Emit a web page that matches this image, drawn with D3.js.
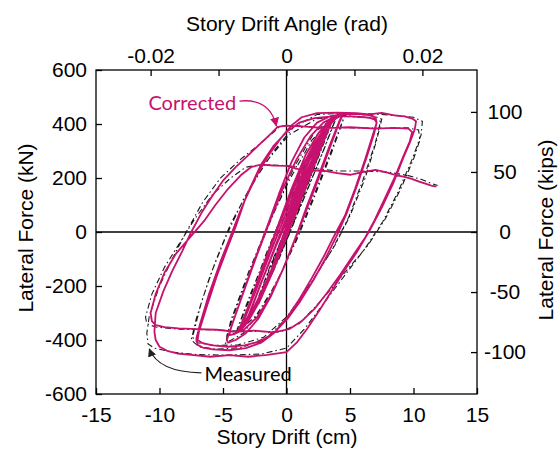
<!DOCTYPE html>
<html>
<head>
<meta charset="utf-8">
<script src="https://cdn.jsdelivr.net/npm/d3@7"></script>
<style>
  body { margin: 0; background: #fff; }
  svg text { font-family: "Liberation Sans", Arial, sans-serif; }
</style>
</head>
<body>
<svg id="chart" width="560" height="454"></svg>
<script>
// axis values
const driftTicks = [-15, -10, -5, 0, 5, 10, 15];
const forceTicks = [-600, -400, -200, 0, 200, 400, 600];
const angleTicks = [-0.02, -0.01, 0, 0.01, 0.02];
const angleLabels = [-0.02, 0, 0.02];
const kipTicks = [-100, -50, 0, 50, 100];
const kNPerKip = 4.448;
const storyHeight = 535; // cm, from top axis

// Corrected curve [drift cm, force kN]
const corrSmall = [
  [0,0],[0.4,55],[0.8,105],[1.0,125],[0.8,100],[0.3,35],[-0.2,-25],[-0.6,-80],[-0.9,-115],[-1.0,-125],[-0.8,-100],[-0.3,-30],
  [0.2,35],[0.6,85],[1.0,130],[0.8,105],[0.2,25],[-0.4,-50],[-1.0,-130],[-0.7,-95],[-0.1,-10],
  [0.5,70],[1.2,160],[1.8,230],[2.1,265],[1.8,235],[1.0,130],[0.2,25],[-0.6,-80],[-1.4,-180],[-2.0,-245],[-2.2,-260],
  [-1.9,-230],[-1.0,-115],[-0.2,-5],[0.6,100],[1.4,195],[2.0,260],[2.2,275],[1.9,240],[1.0,120],[0.1,10],[-0.8,-100],
  [-1.6,-195],[-2.2,-265],[-1.9,-235],[-0.9,-110],[0,15],
  [0.8,120],[1.6,215],[2.4,300],[2.9,350],[3.1,370],[2.8,345],[2.0,245],[1.0,115],[0.2,10],[-0.8,-110],[-1.8,-215],
  [-2.6,-290],[-3.1,-330],[-3.3,-340],[-3.0,-310],[-2.1,-200],[-1.1,-80],[-0.2,30],[0.8,150],[1.8,265],[2.6,340],
  [3.1,380],[2.8,350],[1.8,225],[0.8,100],[-0.2,-20],[-1.2,-140],[-2.2,-245],[-3.0,-320],[-3.3,-345],[-3.0,-315],
  [-2.0,-190],[-0.9,-60],[0.2,60],
  [1.2,180],[2.2,290],[3.0,365],[3.5,400],[3.7,415],[3.4,395],[2.6,305],[1.6,180],[0.6,60],[-0.5,-70],[-1.6,-190],
  [-2.6,-290],[-3.4,-345],[-3.7,-360],[-3.4,-335],[-2.4,-215],[-1.3,-80],[-0.2,50],[1.0,190],[2.0,295],[2.9,370],
  [3.5,410],[3.7,420],[3.3,390],[2.4,285],[1.4,160],[0.4,40],[-0.7,-95],[-1.8,-215],[-2.8,-305],[-3.5,-350],[-3.7,-362],
  [-3.3,-320],[-2.2,-170],[-1.1,-30],[0,100],[1.1,230],[2.1,320],[2.9,380],[3.5,412],[3.8,425],[3.5,400],[2.7,310],
  [1.8,200],[0.9,90],[-0.1,-30],[-1.1,-150],[-2.1,-255],[-3.0,-330],[-3.6,-365],[-3.9,-372],[-3.6,-345],[-2.7,-240],
  [-1.7,-110],[-0.7,20],[0.4,160],[1.5,285],[2.5,365],[3.3,410],[3.8,428],[3.5,405],[2.6,300],[1.5,165],[0.5,45],
  [-0.6,-90],[-1.7,-210],[-2.7,-300],[-3.4,-345],[-3.8,-365]
];
const corrMid = [
  [-3.4,-330],[-2.4,-200],[-1.3,-60],[-0.2,70],[1.0,210],[2.0,310],[2.9,375],[3.6,410],[4.1,428],[4.4,432],[4.2,415],
  [3.4,320],[2.5,205],[1.6,95],[0.8,-10],[-0.2,-130],[-1.2,-235],[-2.2,-320],[-3.2,-375],[-4.0,-400],[-4.6,-410],
  [-4.7,-400],[-4.3,-345],[-3.4,-225],[-2.4,-95],[-1.4,30],[-0.3,160],[0.8,270],[1.9,355],[2.9,405],[3.7,425],[4.4,430],
  [4.2,410],[3.4,310],[2.5,195],[1.6,85],[0.7,-25],[-0.3,-140],[-1.3,-240],[-2.3,-315],[-3.3,-360],[-4.1,-378],
  [-4.5,-382],[-4.4,-360]
];
const corrSeven = [
  [-3.6,-250],[-2.6,-115],[-1.6,10],[-0.6,140],[0.4,260],[1.4,350],[2.4,405],[3.4,428],[4.6,438],[5.8,437],[6.6,432],
  [7.0,425],[7.1,405],[6.8,360],[6.2,270],[5.4,160],[4.6,60],[3.8,-10],[3.0,-85],[2.0,-170],[1.0,-250],[0,-320],
  [-1.0,-375],[-2.0,-410],[-3.2,-430],[-4.5,-438],[-5.8,-435],[-6.6,-428],[-7.0,-418],[-7.1,-395],[-6.8,-340],
  [-6.1,-230],[-5.2,-110],[-4.4,-15],[-3.7,70],[-2.9,160],[-2.0,250],[-1.0,320],[0,370],[1.0,405],[2.2,422],[3.6,428],
  [5.0,428],[6.2,425],[6.9,420],[7.1,405],[6.9,365],[6.3,275],[5.5,165],[4.7,65],[4.0,-10],[3.1,-95],[2.1,-180],
  [1.1,-255],[0.1,-320],[-1.0,-375],[-2.1,-405],[-3.3,-420],[-4.6,-425],[-5.8,-420],[-6.6,-412],[-7.0,-400],
  [-6.9,-370],[-6.3,-280],[-5.5,-165],[-4.7,-65],[-4.0,20],[-3.3,115],[-2.4,205],[-1.4,285],[-0.4,350],[0.4,395],
  [1.2,425],[2.4,440],[4.0,442]
];
const corrTen = [
  [5.5,440],[6.5,436],[7.5,441],[8.5,432],[9.3,428],[9.9,420],[10.2,410],[10.1,380],[9.7,330],[9.2,275],[8.4,180],
  [7.5,90],[6.6,10],[5.6,-70],[4.6,-140],[3.6,-215],[2.6,-290],[1.6,-360],[0.8,-410],[0,-445],[-1.5,-455],[-3,-462],
  [-4.5,-456],[-6,-462],[-7.5,-455],[-8.6,-450],[-9.4,-440],[-10.0,-425],[-10.3,-400],[-10.4,-370],[-10.3,-300],
  [-9.7,-220],[-9.0,-145],[-8.2,-70],[-7.5,0],[-6.7,70],[-5.9,130],[-5.0,190],[-4.0,240],[-3.0,285],[-2.0,330],
  [-1.2,365],[-0.7,389],[0,394],[1.5,390],[3,385],[5,388],[7,383],[8.5,386],[9.6,383],[9.9,370],[9.7,335],[9.2,280],
  [8.5,200],[7.7,120],[6.9,40],[6.2,-20],[5.2,-90],[4.2,-160],[3.2,-225],[2.2,-285],[1.2,-330],[0.2,-360],[-1,-372],
  [-2.5,-365],[-4,-370],[-5.5,-362],[-7,-360],[-8.5,-357],[-9.6,-352],[-10.3,-345],[-10.6,-330]
];
const corrFinal = [
  [-10.7,-300],[-10.3,-230],[-9.6,-150],[-8.7,-80],[-7.6,-20],[-6.5,40],[-5.6,100],[-4.6,160],[-3.6,210],[-2.8,240],
  [-2.0,250],[-1.0,246],[0,245],[1,232],[2,228],[3,226],[4,218],[5,212],[6,222],[7,230],[7.8,222],[8.5,212],[9.2,205],
  [9.8,198],[10.5,186],[11,178],[11.4,172],[11.8,168]
];

// Measured curve [drift cm, force kN]
const measSmall = [
  [0,0],[0.6,80],[1.1,125],[0.4,40],[-0.5,-60],[-1.1,-125],[-0.4,-35],[0.6,85],[1.3,140],[0.5,45],[-0.6,-70],[-1.2,-130],
  [-0.4,-30],[0.9,130],[1.8,230],[2.3,270],[1.2,130],[0,-10],[-1.2,-150],[-2.3,-260],[-1.2,-120],[0.2,40],[1.4,195],
  [2.4,280],[1.3,140],[0,-5],[-1.3,-160],[-2.4,-265],[-1.2,-115],[0.4,60],[1.6,220],[2.6,320],[3.3,372],[2.2,240],
  [1.0,90],[-0.4,-80],[-1.8,-220],[-2.9,-315],[-3.5,-342],[-2.3,-200],[-0.9,-30],[0.6,140],[2.0,290],[3.3,382],
  [2.3,255],[1.0,100],[-0.5,-75],[-2.0,-235],[-3.5,-348],[-2.4,-210],[-1.0,-40],[0.6,150],[2.2,320],[3.4,405],
  [3.9,420],[2.9,300],[1.6,150],[0.2,-10],[-1.4,-180],[-2.9,-310],[-3.9,-362],[-2.8,-225],[-1.2,-40],[0.4,140],
  [2.0,305],[3.3,400],[3.9,424],[2.8,290],[1.4,130],[0,-30],[-1.6,-200],[-3.0,-315],[-3.9,-365]
];
const measMid = [
  [-3.0,-260],[-1.6,-80],[-0.2,80],[1.4,250],[2.8,370],[3.9,420],[4.6,435],[3.6,310],[2.2,140],[1.0,0],[-0.4,-150],
  [-2.0,-290],[-3.4,-375],[-4.8,-412],[-4.4,-330],[-3.0,-150],[-1.6,10],[0.2,190],[2,340],[3.6,420],[4.6,432],
  [3.6,300],[2.2,130],[0.8,-30],[-0.8,-190],[-2.4,-310],[-3.8,-370],[-4.7,-384]
];
const measSeven = [
  [-3.8,-260],[-2.4,-90],[-1.0,70],[0.6,240],[2.2,370],[3.8,425],[5.5,436],[6.8,430],[7.5,418],[7.1,340],[6.2,200],
  [5.0,60],[3.8,-50],[2.2,-170],[0.4,-300],[-1.5,-390],[-3.5,-428],[-5.5,-434],[-6.9,-425],[-7.5,-400],[-7.1,-320],
  [-6.0,-160],[-4.8,-20],[-3.4,120],[-1.6,260],[0.2,360],[2.4,420],[4.6,428],[6.4,424],[7.4,410],[7.0,330],[6.0,190],
  [4.9,55],[3.6,-65],[1.9,-190],[0.1,-310],[-1.8,-390],[-3.8,-418],[-5.8,-420],[-7.0,-410],[-7.4,-390],[-6.7,-260],
  [-5.6,-110],[-4.4,30],[-2.8,170],[-1.0,300],[0.6,390],[2.4,435],[4.5,440]
];
const measTen = [
  [6.5,438],[8.5,432],[10.0,425],[10.7,410],[10.6,360],[9.9,270],[8.8,150],[7.6,40],[6.2,-60],[4.6,-160],[3.0,-260],
  [1.4,-360],[0,-430],[-2,-452],[-4.5,-456],[-7,-454],[-9,-445],[-10.4,-430],[-10.9,-415],[-11.0,-375],[-10.8,-310],
  [-10.0,-200],[-9.0,-100],[-7.9,0],[-6.6,110],[-5.2,200],[-3.6,270],[-2.0,330],[-1.0,370],[-0.5,392],[0.5,395],
  [2.5,388],[5,386],[7.5,384],[9.5,386],[10.4,378],[10.5,340],[10.0,270],[9.0,160],[7.8,50],[6.4,-50],[4.6,-150],
  [2.8,-250],[1.0,-340],[-0.5,-370],[-3,-368],[-6,-362],[-8.5,-360],[-10.3,-352],[-11.0,-340]
];
const measFinal = [
  [-11.1,-315],[-10.6,-230],[-9.6,-130],[-8.4,-40],[-7.2,50],[-5.8,140],[-4.4,200],[-3.2,240],[-2,250],[0,246],
  [2,236],[4,226],[6,226],[8,222],[9.5,210],[10.6,195],[11.4,180],[11.9,172]
];

const corrected = [...corrSmall, ...corrMid, ...corrSeven, ...corrTen, ...corrFinal];
const measured = [...measSmall, ...measMid, ...measSeven, ...measTen, ...measFinal];

const magenta = "#c8106e";

const svg = d3.select("#chart");
const plotLeft = 96, plotRight = 477, plotTop = 70, plotBottom = 394;

const x = d3.scaleLinear().domain([-15, 15]).range([plotLeft, plotRight]);
const y = d3.scaleLinear().domain([-600, 600]).range([plotBottom, plotTop]);
const xRad = d3.scaleLinear().domain([-15 / storyHeight, 15 / storyHeight]).range([plotLeft, plotRight]);
const yKip = d3.scaleLinear().domain([-600 / kNPerKip, 600 / kNPerKip]).range([plotBottom, plotTop]);

const plainNum = d => String(d); // hyphen minus like the original

// zero lines
svg.append("line").attr("x1", x(0)).attr("x2", x(0)).attr("y1", plotTop).attr("y2", plotBottom)
    .attr("stroke", "#000").attr("stroke-width", 1.3);
svg.append("line").attr("x1", plotLeft).attr("x2", plotRight).attr("y1", y(0)).attr("y2", y(0))
    .attr("stroke", "#000").attr("stroke-width", 1.3);

const line = d3.line().x(d => x(d[0])).y(d => y(d[1]));

svg.append("path").datum(measured)
    .attr("d", line)
    .attr("fill", "none")
    .attr("stroke", "#1a1a1a")
    .attr("stroke-width", 1.1)
    .attr("stroke-dasharray", "6,3,1.5,3");

svg.append("path").datum(corrected)
    .attr("d", line)
    .attr("fill", "none")
    .attr("stroke", magenta)
    .attr("stroke-width", 1.8)
    .attr("stroke-linejoin", "round");

// frame
svg.append("rect").attr("x", plotLeft).attr("y", plotTop)
    .attr("width", plotRight - plotLeft).attr("height", plotBottom - plotTop)
    .attr("fill", "none").attr("stroke", "#000").attr("stroke-width", 1.3);

function styleAxis(g) {
    g.select(".domain").remove();
    g.selectAll(".tick line").attr("stroke", "#000").attr("stroke-width", 1.3);
    g.selectAll("text").attr("font-size", 21).attr("fill", "#000")
        .style("font-family", '"Liberation Sans", Arial, sans-serif');
}

svg.append("g").attr("transform", `translate(0,${plotBottom})`)
    .call(d3.axisBottom(x).tickValues(driftTicks).tickSize(-6).tickPadding(13).tickFormat(plainNum))
    .call(styleAxis);

svg.append("g").attr("transform", `translate(${plotLeft},0)`)
    .call(d3.axisLeft(y).tickValues(forceTicks).tickSize(-6).tickPadding(9).tickFormat(plainNum))
    .call(styleAxis);

svg.append("g").attr("transform", `translate(0,${plotTop})`)
    .call(d3.axisTop(xRad).tickValues(angleTicks).tickSize(-6).tickPadding(7)
        .tickFormat(d => angleLabels.includes(d) ? String(d) : ""))
    .call(styleAxis);

svg.append("g").attr("transform", `translate(${plotRight},0)`)
    .call(d3.axisRight(yKip).tickValues(kipTicks).tickSize(-6).tickPadding(28).tickFormat(plainNum))
    .call(styleAxis)
    .selectAll("text").attr("text-anchor", "middle");

// axis titles
svg.append("text").attr("x", 287).attr("y", 31).attr("text-anchor", "middle")
    .attr("font-size", 21).text("Story Drift Angle (rad)");
svg.append("text").attr("x", 287).attr("y", 444).attr("text-anchor", "middle")
    .attr("font-size", 21).text("Story Drift (cm)");
svg.append("text").attr("transform", "translate(33,228) rotate(-90)").attr("text-anchor", "middle")
    .attr("font-size", 21).text("Lateral Force (kN)");
svg.append("text").attr("transform", "translate(553,230) rotate(-90)").attr("text-anchor", "middle")
    .attr("font-size", 21).text("Lateral Force (kips)");

// annotations
const defs = svg.append("defs");
[["arrMag", magenta], ["arrBlk", "#222"]].forEach(([id, c]) => {
    defs.append("marker").attr("id", id).attr("viewBox", "0 0 10 10").attr("refX", 9).attr("refY", 5)
        .attr("markerWidth", 7).attr("markerHeight", 7).attr("orient", "auto")
        .append("path").attr("d", "M0,0 L10,5 L0,10 z").attr("fill", c);
});

svg.append("text").attr("x", x(-10.87)).attr("y", y(452))
    .style("font-family", "Lato, 'Open Sans', sans-serif").attr("font-size", 20)
    .attr("fill", magenta).text("Corrected");
svg.append("path")
    .attr("d", `M${x(-3.7)},${y(485)} Q${x(-1.3)},${y(496)} ${x(-0.8)},${y(393)}`)
    .attr("fill", "none").attr("stroke", magenta).attr("stroke-width", 1.3)
    .attr("marker-end", "url(#arrMag)");

svg.append("text").attr("x", x(-6.46)).attr("y", y(-552))
    .style("font-family", "Lato, 'Open Sans', sans-serif").attr("font-size", 20)
    .attr("fill", "#000").text("Measured");
svg.append("path")
    .attr("d", `M${x(-6.7)},${y(-522)} Q${x(-10.1)},${y(-519)} ${x(-10.8)},${y(-433)}`)
    .attr("fill", "none").attr("stroke", "#222").attr("stroke-width", 1.2)
    .attr("marker-end", "url(#arrBlk)");
</script>
</body>
</html>
